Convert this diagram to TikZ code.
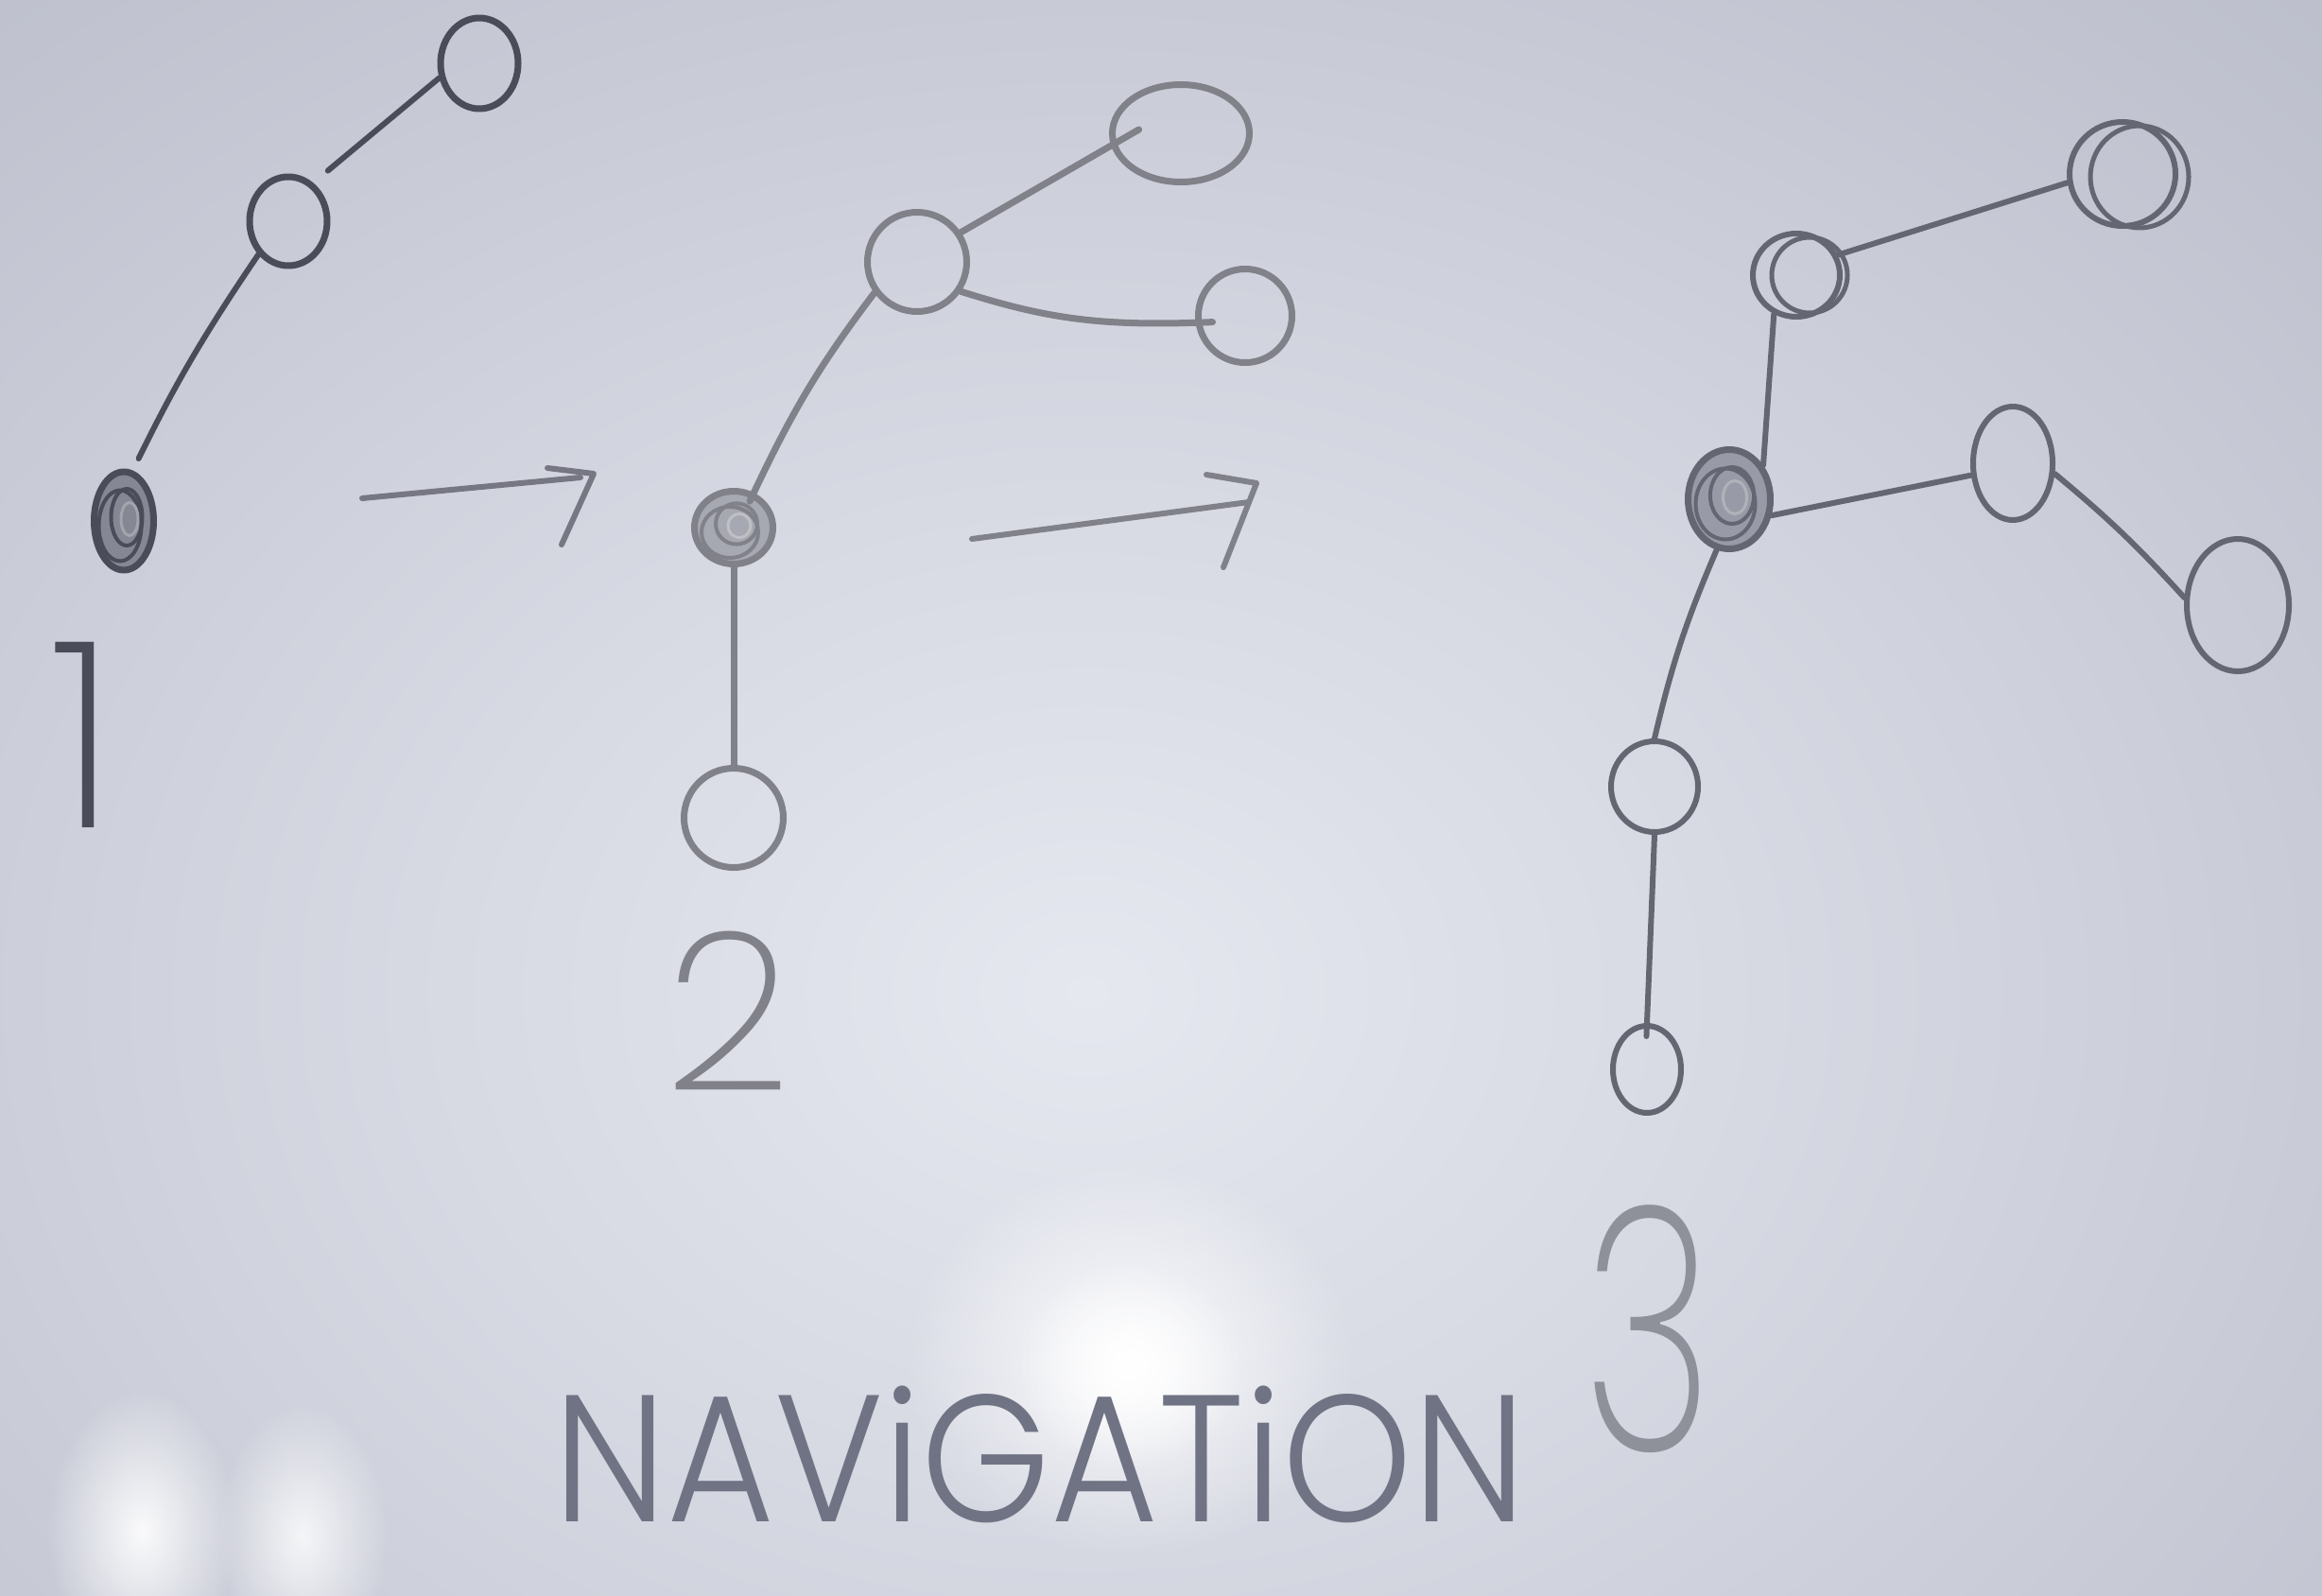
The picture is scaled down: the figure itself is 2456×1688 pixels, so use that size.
\documentclass[tikz,border=0pt]{standalone}
\usepackage{fontspec}
\setmainfont{Liberation Sans}
\IfFontExistsTF{Poppins ExtraLight}{%
  \newfontfamily\handthin{Poppins ExtraLight}
  \newfontfamily\handthree{Poppins ExtraLight}[FakeStretch=0.66]}{%
  \newfontfamily\handthin{Liberation Sans}
  \newfontfamily\handthree{Liberation Sans}[FakeStretch=0.66]}
\IfFontExistsTF{Poppins Light}{\newfontfamily\handlight{Poppins Light}[FakeStretch=0.915]}{%
  \newfontfamily\handlight{Liberation Sans}[FakeStretch=0.915]}
\usetikzlibrary{shapes.geometric,fadings}
\tikzfading[name=glowfade, inner color=transparent!0, outer color=transparent!100]
\definecolor{bgdark}{RGB}{170,173,188}
\definecolor{bgmid}{RGB}{205,208,220}
\definecolor{bglight}{RGB}{230,232,240}
\definecolor{inkA}{RGB}{74,76,90}
\definecolor{inkB}{RGB}{128,129,137}
\definecolor{inkC}{RGB}{100,102,114}
\definecolor{inkArrow}{RGB}{118,119,130}
\definecolor{inkT}{RGB}{112,115,132}
\newcommand{\scrib}[4]{%
  \draw[#2, line width=4pt] ([shift={(3,-4)}]#1.center) ellipse ({0.55*#3} and {0.6*#4});
  \draw[#2, line width=4pt] ([shift={(-4,5)}]#1.center) ellipse ({0.75*#3} and {0.75*#4});
  \draw[#2!50!white, line width=3pt] ([shift={(6,-2)}]#1.center) ellipse ({0.3*#3} and {0.35*#4});
}
\begin{document}
\begin{tikzpicture}[x=1pt,y=-1pt, line cap=round, line join=round,
  nd/.style={ellipse, draw, inner sep=0pt, line width=7pt},
  edgeA/.style={draw=inkA, line width=6pt},
  edgeB/.style={draw=inkB, line width=7pt},
  edgeC/.style={draw=inkC, line width=6pt},
  arr/.style={draw=inkArrow, line width=6pt},
  lab/.style={inner sep=0pt}]
\useasboundingbox (0,0) rectangle (2456,1688);
% whiteboard background
\fill[bgdark] (0,0) rectangle (2456,1688);
\begin{scope}
  \clip (0,0) rectangle (2456,1688);
  \shade[inner color=bglight, outer color=bgdark] (1150,1050) ellipse (2700 and 2100);
  \fill[white, path fading=glowfade, opacity=0.9] (1195,1440) ellipse (240 and 210);
  \fill[white, path fading=glowfade] (1195,1445) ellipse (120 and 110);
  \fill[white, path fading=glowfade, opacity=0.9] (150,1620) ellipse (100 and 150);
  \fill[white, path fading=glowfade, opacity=0.8] (320,1625) ellipse (90 and 140);
\end{scope}

% ---------- panel 1 ----------
\node[nd, draw=inkA, minimum width=82pt, minimum height=96pt] (p1top) at (507,67) {};
\node[nd, draw=inkA, minimum width=82pt, minimum height=94pt] (p1mid) at (305,234) {};
\node[nd, draw=inkA, fill=inkA!55!bgmid, minimum width=63pt, minimum height=104pt] (p1f) at (131,551) {};
\scrib{p1f}{inkA}{30}{50}
\draw[edgeA, shorten <=20pt] (p1mid.57) -- (p1top.200);
\draw[edgeA, shorten <=14pt] (p1f.80) to[bend left=4] (p1mid.228);
\node[lab, text=inkA, font=\handthin\fontsize{276}{276}\selectfont] (lab1) at (88,777) {1};

% arrow 1
\coordinate (a1s) at (383,527);
\coordinate (a1e) at (614,505);
\coordinate (a1h1) at (579,495);
\coordinate (a1h2) at (628,501);
\coordinate (a1h3) at (594,576);
\draw[arr] (a1s) -- (a1e);
\draw[arr] (a1h1) -- (a1h2) -- (a1h3);

% ---------- panel 2 ----------
\node[nd, draw=inkB, fill=inkB!50!bgmid, minimum width=83pt, minimum height=77pt] (p2f) at (776,558) {};
\scrib{p2f}{inkB}{40}{36}
\node[nd, draw=inkB, minimum width=105pt, minimum height=105pt] (p2hub) at (970,277) {};
\node[nd, draw=inkB, minimum width=145pt, minimum height=103pt] (p2tr) at (1249,141) {};
\node[nd, draw=inkB, minimum width=99pt, minimum height=99pt] (p2r) at (1317,334) {};
\node[nd, draw=inkB, minimum width=105pt, minimum height=105pt] (p2b) at (776,865) {};
\draw[edgeB, shorten >=-34pt] (p2hub.34) -- (p2tr.190);
\draw[edgeB, shorten >=-18pt] (p2hub.-34) to[bend right=10] (p2r.188);
\draw[edgeB, shorten <=-10pt] (p2f.60) to[bend left=6] (p2hub.216);
\draw[edgeB] (p2f.south) -- (p2b.north);
\node[lab, text=inkB, font=\handthin\fontsize{234}{234}\selectfont] (lab2) at (770,1069) {2};

% arrow 2
\coordinate (a2s) at (1028,570);
\coordinate (a2e) at (1321,531);
\coordinate (a2h1) at (1276,502);
\coordinate (a2h2) at (1329,511);
\coordinate (a2h3) at (1294,600);
\draw[arr, draw=inkB] (a2s) -- (a2e);
\draw[arr, draw=inkB] (a2h1) -- (a2h2) -- (a2h3);

% ---------- panel 3 ----------
\node[nd, draw=inkC, fill=inkC!50!bgmid, minimum width=87pt, minimum height=105pt] (p3f) at (1829,528) {};
\scrib{p3f}{inkC}{42}{50}
\node[nd, draw=inkC, line width=6pt, minimum width=92pt, minimum height=88pt] (p3t) at (1900,291) {};
\draw[inkC, line width=5pt] ([shift={(14,0)}]p3t.center) ellipse (40 and 40);
\node[nd, draw=inkC, line width=6pt, minimum width=112pt, minimum height=110pt] (p3tr) at (2245,184) {};
\draw[inkC, line width=5pt] ([shift={(18,3)}]p3tr.center) ellipse (52 and 54);
\node[nd, draw=inkC, line width=6pt, minimum width=84pt, minimum height=120pt] (p3m) at (2129,490) {};
\node[nd, draw=inkC, line width=6pt, minimum width=108pt, minimum height=140pt] (p3r) at (2367,640) {};
\node[nd, draw=inkC, line width=6pt, minimum width=92pt, minimum height=96pt] (p3l) at (1750,832) {};
\node[nd, draw=inkC, line width=6pt, minimum width=72pt, minimum height=92pt] (p3b) at (1742,1131) {};
\draw[edgeC] (p3t.26) -- (p3tr.189);
\draw[edgeC] (p3t.240) -- (p3f.45);
\draw[edgeC] (p3f.-21) -- (p3m.196);
\draw[edgeC] (p3m.-14) to[bend left=4] (p3r.172);
\draw[edgeC] (p3f.256) to[bend right=5] (p3l.north);
\draw[edgeC, shorten >=-14pt] (p3l.south) -- (p3b.north);
\node[lab, text=inkB!80!bgmid, font=\handthree\fontsize{361}{361}\selectfont] (lab3) at (1744,1406) {3};

% ---------- title ----------
\node[lab, text=inkT, font=\handlight\fontsize{191}{191}\selectfont] (title) at (1100,1538) {NAViGATiON};
\end{tikzpicture}
\end{document}
